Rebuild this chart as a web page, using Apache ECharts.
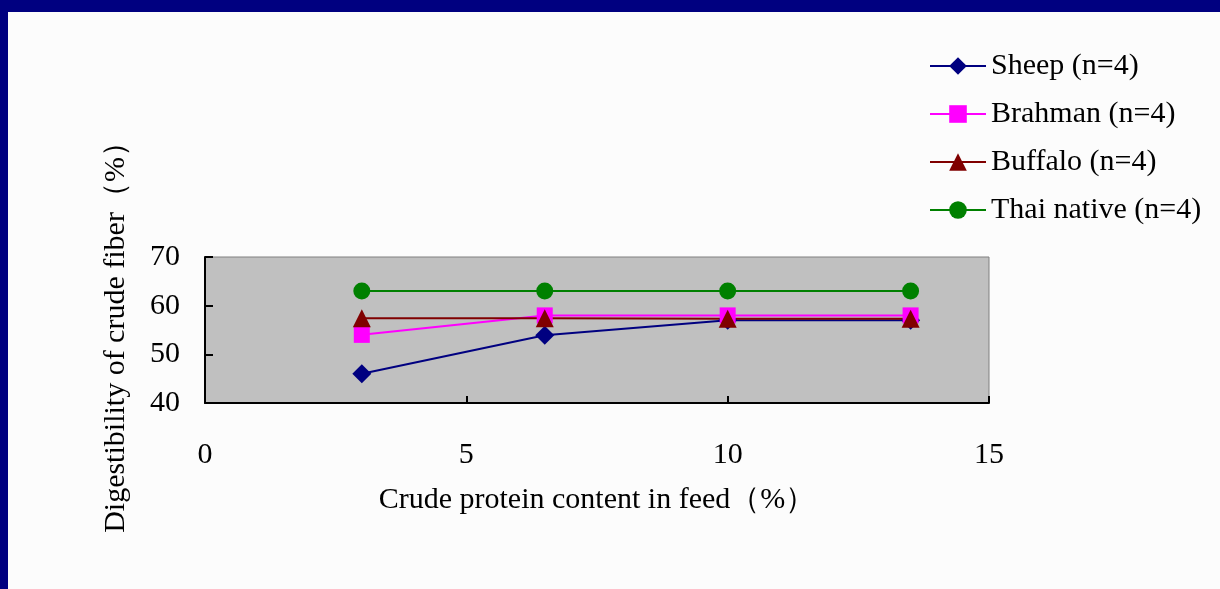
<!DOCTYPE html>
<html>
<head>
<meta charset="utf-8">
<script src="https://cdn.jsdelivr.net/npm/echarts@6/dist/echarts.min.js"></script>
<style>
html,body{margin:0;padding:0;background:#000080;}
#wrap{position:absolute;left:8px;top:12px;width:1212px;height:577px;background:#fcfcfc;}
#chart{position:absolute;left:-8px;top:-12px;width:1220px;height:589px;}
</style>
</head>
<body>
<div id="wrap"><div id="chart"></div></div>
<script>
const xValues = [3, 6.5, 10, 13.5];
const seriesNames = ['Sheep (n=4)', 'Brahman (n=4)', 'Buffalo (n=4)', 'Thai native (n=4)'];
const sheep = [46.0, 53.9, 57.0, 57.0];
const brahman = [54.0, 58.0, 58.0, 58.0];
const buffalo = [57.4, 57.4, 57.3, 57.3];
const thaiNative = [63.0, 63.0, 63.0, 63.0];
const xAxisName = 'Crude protein content in feed（%）';
const yAxisName = 'Digestibility of crude fiber（%）';

const colors = ['#000080', '#ff00ff', '#800000', '#008000'];
const symbols = ['diamond', 'rect', 'triangle', 'circle'];
const sizes = [19, 16, 18, 17];
const allData = [sheep, brahman, buffalo, thaiNative];
const font = '"Liberation Serif", "Times New Roman", serif';
const fs = 30;

const chart = echarts.init(document.getElementById('chart'));
chart.setOption({
  animation: false,
  backgroundColor: 'transparent',
  textStyle: { fontFamily: font },
  grid: {
    left: 205, top: 257, width: 784, height: 146,
    show: true, backgroundColor: '#c0c0c0', borderColor: '#808080', borderWidth: 1
  },
  legend: {
    orient: 'vertical', left: 924, top: 46,
    itemWidth: 56, itemHeight: 22, itemGap: 18,
    textStyle: { fontFamily: font, fontSize: fs, color: '#000' },
    data: seriesNames
  },
  xAxis: {
    type: 'value', min: 0, max: 15, interval: 5,
    name: xAxisName, nameLocation: 'middle', nameGap: 82,
    nameTextStyle: { fontFamily: font, fontSize: fs, color: '#000' },
    axisLine: { show: true, onZero: false, lineStyle: { color: '#000', width: 2 } },
    axisTick: { show: true, inside: true, length: 7, lineStyle: { color: '#000', width: 2 } },
    axisLabel: { margin: 37, fontFamily: font, fontSize: fs, color: '#000' },
    splitLine: { show: false }
  },
  yAxis: {
    type: 'value', min: 40, max: 70, interval: 10,
    name: yAxisName, nameLocation: 'middle', nameGap: 74, nameRotate: 90,
    nameTextStyle: { fontFamily: font, fontSize: fs, color: '#000' },
    axisLine: { show: true, lineStyle: { color: '#000', width: 2 } },
    axisTick: { show: true, inside: true, length: 8, lineStyle: { color: '#000', width: 2 } },
    axisLabel: { margin: 25, fontFamily: font, fontSize: fs, color: '#000' },
    splitLine: { show: false }
  },
  series: seriesNames.map((name, i) => ({
    name: name,
    type: 'line',
    data: xValues.map((x, j) => [x, allData[i][j]]),
    symbol: symbols[i],
    symbolSize: sizes[i],
    showSymbol: true,
    color: colors[i],
    lineStyle: { color: colors[i], width: 2 },
    itemStyle: { color: colors[i] }
  }))
});
</script>
</body>
</html>
